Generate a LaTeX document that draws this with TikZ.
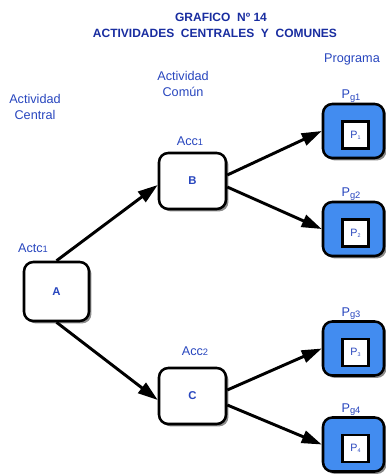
\documentclass[tikz,border=0pt]{standalone}
\usepackage{fontspec}
\setmainfont{Liberation Sans}
\usetikzlibrary{arrows.meta,shadows,calc}
\definecolor{lbl}{RGB}{40,70,190}
\definecolor{ttl}{RGB}{25,45,160}
\definecolor{pgfill}{RGB}{66,140,240}
\begin{document}
\begin{tikzpicture}[x=0.75pt,y=-0.75pt,
  shd/.style={drop shadow={shadow xshift=1.8pt,shadow yshift=-1.8pt,fill=black!45,opacity=1}},
  actbox/.style={draw=black,line width=1.9pt,rounded corners=7pt,fill=white,shd,
    font=\fontsize{8.5}{9}\selectfont\bfseries,text=lbl,inner sep=0pt},
  pgbox/.style={draw=black,line width=1.9pt,rounded corners=7pt,fill=pgfill,shd,
    minimum width=45.75pt,minimum height=40.5pt,inner sep=0pt},
  inbox/.style={draw=black,line width=1.9pt,fill=white,minimum width=19.5pt,minimum height=20pt,
    inner sep=0pt,font=\fontsize{8}{9}\selectfont,text=lbl},
  lab/.style={text=lbl,font=\fontsize{9.5}{11.5}\selectfont,align=center,inner sep=0pt},
  arr/.style={line width=2.2pt,-{Triangle[length=15pt,width=9.5pt]}},
  ttlstyle/.style={text=ttl,font=\fontsize{9}{11}\selectfont\bfseries,inner sep=0pt}]
\useasboundingbox (0,0) rectangle (386,476);
% title
\node[ttlstyle] (t1) at (221,17) {GRAFICO\ \ Nº 14};
\node[ttlstyle] (t2) at (215,33) {ACTIVIDADES\ \ CENTRALES\ \ Y\ \ COMUNES};
% column headers
\node[lab] (hc) at (35,107) {Actividad\\Central};
\node[lab] (hm) at (183,84) {Actividad\\Común};
\node[lab] (hp) at (352,59) {Programa};
% activity boxes
\node[actbox,minimum width=48.75pt,minimum height=44.25pt] (A) at (56.5,291.5) {A};
\node[actbox,minimum width=50.25pt,minimum height=42pt] (B) at (192.5,181) {B};
\node[actbox,minimum width=50.25pt,minimum height=42pt] (C) at (192.5,396) {C};
\node[lab] (lA) at (33,248) {Actc\raisebox{-0.5pt}{\fontsize{7}{8}\selectfont 1}};
\node[lab] (lB) at (190,141) {Acc\raisebox{-0.5pt}{\fontsize{7}{8}\selectfont 1}};
\node[lab] (lC) at (195,351) {Acc\raisebox{-0.5pt}{\fontsize{7}{8}\selectfont 2}};
% program boxes
\foreach \i/\y in {1/131,2/229,3/348.5,4/444.5}{
  \node[pgbox] (P\i) at (353.5,\y) {};
  \node[inbox] (Q\i) at (355.5,\y+4) {P\raisebox{-1pt}{\fontsize{4}{5}\selectfont\i}};
  \node[lab] (L\i) at (351,\y-35) {P\raisebox{-1pt}{\fontsize{7}{8}\selectfont g\i}};
}
% connectors
\draw[arr] (A.north) -- ($(B.west)+(0,4)$);
\draw[arr] (A.south) -- ($(C.west)+(0,4)$);
\draw[arr] ($(B.east)+(0,-6)$) -- (P1.west);
\draw[arr] ($(B.east)+(0,6)$) -- (P2.west);
\draw[arr] ($(C.east)+(0,-6)$) -- (P3.west);
\draw[arr] ($(C.east)+(0,9)$) -- (P4.west);
\end{tikzpicture}
\end{document}
